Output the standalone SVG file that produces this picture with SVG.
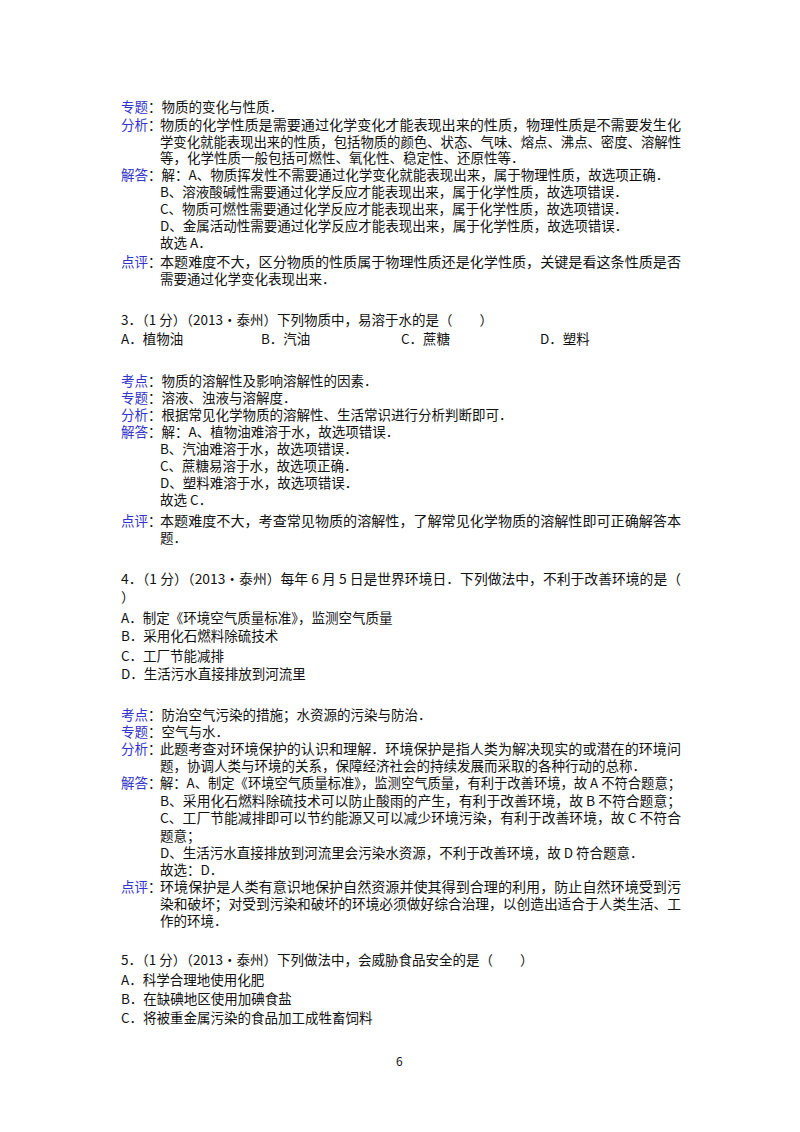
<svg xmlns="http://www.w3.org/2000/svg" width="800" height="1132" viewBox="0 0 800 1132">
<style>
text{font-family:"Noto Sans CJK SC","Liberation Sans",sans-serif;font-size:13.5px;fill:#111}
.l{fill:#3333cc}
</style>
<rect width="800" height="1132" fill="#fff"/>
<text class="l" x="121" y="112">专题</text><text x="148" y="112">：物质的变化与性质．</text>
<text class="l" x="121" y="130">分析</text><text x="148" y="130">：</text><text x="160" y="130" textLength="521" lengthAdjust="spacingAndGlyphs">物质的化学性质是需要通过化学变化才能表现出来的性质，物理性质是不需要发生化</text>
<text x="160" y="147" textLength="521" lengthAdjust="spacingAndGlyphs">学变化就能表现出来的性质，包括物质的颜色、状态、气味、熔点、沸点、密度、溶解性</text>
<text x="160" y="163">等，化学性质一般包括可燃性、氧化性、稳定性、还原性等．</text>
<text class="l" x="121" y="180">解答</text><text x="148" y="180">：解：A、物质挥发性不需要通过化学变化就能表现出来，属于物理性质，故选项正确．</text>
<text x="160" y="197">B、溶液酸碱性需要通过化学反应才能表现出来，属于化学性质，故选项错误．</text>
<text x="160" y="214">C、物质可燃性需要通过化学反应才能表现出来，属于化学性质，故选项错误．</text>
<text x="160" y="231">D、金属活动性需要通过化学反应才能表现出来，属于化学性质，故选项错误．</text>
<text x="160" y="248">故选 A．</text>
<text class="l" x="121" y="267">点评</text><text x="148" y="267">：</text><text x="160" y="267" textLength="521" lengthAdjust="spacingAndGlyphs">本题难度不大，区分物质的性质属于物理性质还是化学性质，关键是看这条性质是否</text>
<text x="160" y="284">需要通过化学变化表现出来．</text>

<text x="121" y="325">3．（1 分）（2013•泰州）下列物质中，易溶于水的是（　　）</text>
<text x="121" y="344">A．植物油</text><text x="261" y="344">B．汽油</text><text x="401" y="344">C．蔗糖</text><text x="540" y="344">D．塑料</text>

<text class="l" x="121" y="386">考点</text><text x="148" y="386">：物质的溶解性及影响溶解性的因素．</text>
<text class="l" x="121" y="403">专题</text><text x="148" y="403">：溶液、浊液与溶解度．</text>
<text class="l" x="121" y="420">分析</text><text x="148" y="420">：根据常见化学物质的溶解性、生活常识进行分析判断即可．</text>
<text class="l" x="121" y="437">解答</text><text x="148" y="437">：解：A、植物油难溶于水，故选项错误．</text>
<text x="160" y="454">B、汽油难溶于水，故选项错误．</text>
<text x="160" y="471">C、蔗糖易溶于水，故选项正确．</text>
<text x="160" y="488">D、塑料难溶于水，故选项错误．</text>
<text x="160" y="505">故选 C．</text>
<text class="l" x="121" y="526">点评</text><text x="148" y="526">：</text><text x="160" y="526" textLength="521" lengthAdjust="spacingAndGlyphs">本题难度不大，考查常见物质的溶解性，了解常见化学物质的溶解性即可正确解答本</text>
<text x="160" y="543">题．</text>

<text x="121" y="584" textLength="560" lengthAdjust="spacingAndGlyphs">4．（1 分）（2013•泰州）每年 6 月 5 日是世界环境日．下列做法中，不利于改善环境的是（</text>
<text x="121" y="602">）</text>
<text x="121" y="623">A．制定《环境空气质量标准》，监测空气质量</text>
<text x="121" y="641">B．采用化石燃料除硫技术</text>
<text x="121" y="661">C．工厂节能减排</text>
<text x="121" y="679">D．生活污水直接排放到河流里</text>

<text class="l" x="121" y="720">考点</text><text x="148" y="720">：防治空气污染的措施；水资源的污染与防治．</text>
<text class="l" x="121" y="737">专题</text><text x="148" y="737">：空气与水．</text>
<text class="l" x="121" y="754">分析</text><text x="148" y="754">：</text><text x="160" y="754" textLength="521" lengthAdjust="spacingAndGlyphs">此题考查对环境保护的认识和理解．环境保护是指人类为解决现实的或潜在的环境问</text>
<text x="160" y="771">题，协调人类与环境的关系，保障经济社会的持续发展而采取的各种行动的总称．</text>
<text class="l" x="121" y="788">解答</text><text x="148" y="788">：</text><text x="160" y="788" textLength="521" lengthAdjust="spacingAndGlyphs">解：A、制定《环境空气质量标准》，监测空气质量，有利于改善环境，故 A 不符合题意；</text>
<text x="160" y="806" textLength="521" lengthAdjust="spacingAndGlyphs">B、采用化石燃料除硫技术可以防止酸雨的产生，有利于改善环境，故 B 不符合题意；</text>
<text x="160" y="823" textLength="521" lengthAdjust="spacingAndGlyphs">C、工厂节能减排即可以节约能源又可以减少环境污染，有利于改善环境，故 C 不符合</text>
<text x="160" y="841">题意；</text>
<text x="160" y="858">D、生活污水直接排放到河流里会污染水资源，不利于改善环境，故 D 符合题意．</text>
<text x="160" y="875">故选：D．</text>
<text class="l" x="121" y="892">点评</text><text x="148" y="892">：</text><text x="160" y="892" textLength="521" lengthAdjust="spacingAndGlyphs">环境保护是人类有意识地保护自然资源并使其得到合理的利用，防止自然环境受到污</text>
<text x="160" y="909" textLength="521" lengthAdjust="spacingAndGlyphs">染和破坏；对受到污染和破坏的环境必须做好综合治理，以创造出适合于人类生活、工</text>
<text x="160" y="926">作的环境．</text>

<text x="121" y="965">5．（1 分）（2013•泰州）下列做法中，会威胁食品安全的是（　　）</text>
<text x="121" y="985">A．科学合理地使用化肥</text>
<text x="121" y="1004">B．在缺碘地区使用加碘食盐</text>
<text x="121" y="1023">C．将被重金属污染的食品加工成牲畜饲料</text>
<text x="396" y="1066" style="font-size:12px">6</text>
</svg>
